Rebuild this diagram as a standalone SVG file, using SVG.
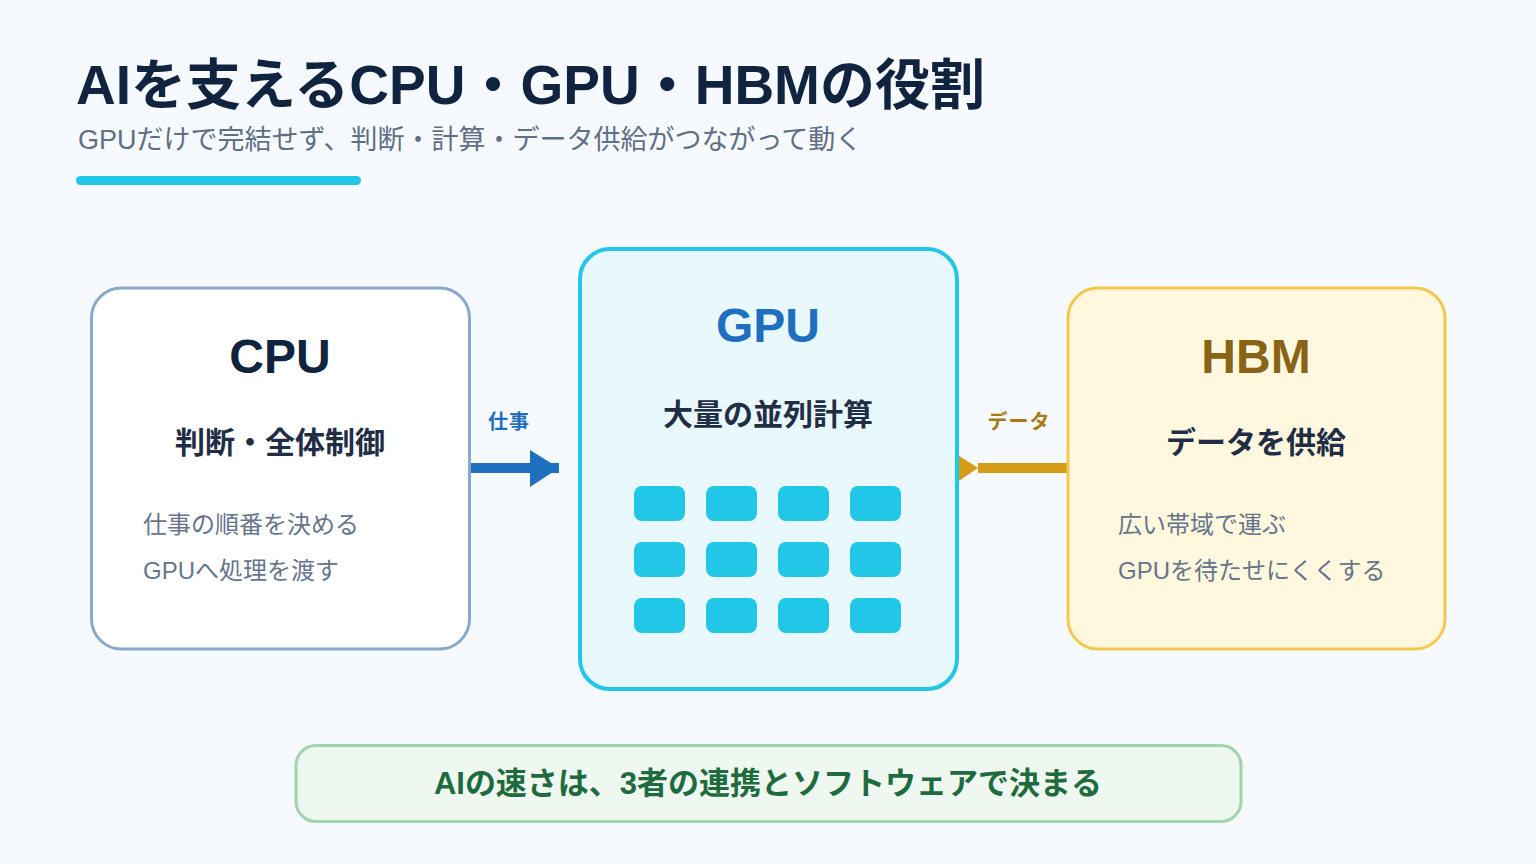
<svg xmlns="http://www.w3.org/2000/svg" width="1536" height="864" viewBox="0 0 1536 864">
<style>
text{font-family:"Liberation Sans","Noto Sans CJK JP",sans-serif}
.title{font-size:55px;font-weight:700;fill:#10233f}
.sub{font-size:27px;fill:#5f6f85}
.head{font-size:48px;font-weight:700;text-anchor:middle}
.role{font-size:30px;font-weight:700;fill:#1f2d45;text-anchor:middle}
.body{font-size:24px;fill:#66758a}
.lbl{font-size:20px;font-weight:700;text-anchor:middle;letter-spacing:1px}
.chip{fill:#22c7e8}
</style>
<rect width="1536" height="864" fill="#f6faff"/>
<text class="title" x="76" y="104">AIを支えるCPU・GPU・HBMの役割</text>
<text class="sub" x="78" y="149">GPUだけで完結せず、判断・計算・データ供給がつながって動く</text>
<rect x="76" y="176" width="285" height="9" rx="4.5" fill="#22c7e8"/>

<g id="connectors">
  <g id="edge-cpu-gpu">
    <rect x="470" y="463" width="89" height="10" fill="#1f6fbf"/>
    <polygon points="530,450 559,468 530,487" fill="#1f6fbf"/>
    <text class="lbl" x="509" y="429" fill="#1f6fbf">仕事</text>
  </g>
  <g id="edge-hbm-gpu">
    <rect x="978" y="463" width="90" height="10" fill="#d49c17"/>
    <polygon points="950,450 978,468 950,487" fill="#d49c17"/>
    <text class="lbl" x="1019" y="429" fill="#a87a12">データ</text>
  </g>
</g>

<g id="cpu">
  <rect x="91.5" y="288" width="378" height="361" rx="30" fill="#ffffff" stroke="#88a9cc" stroke-width="3"/>
  <text class="head" x="280" y="373" fill="#10233f">CPU</text>
  <text class="role" x="280" y="453">判断・全体制御</text>
  <text class="body" x="143" y="533">仕事の順番を決める</text>
  <text class="body" x="143" y="579">GPUへ処理を渡す</text>
</g>

<g id="gpu">
  <rect x="580" y="249" width="377" height="440" rx="30" fill="#e9f8fd" stroke="#22c7e8" stroke-width="4"/>
  <text class="head" x="768" y="342" fill="#1f6fbf">GPU</text>
  <text class="role" x="768" y="425">大量の並列計算</text>
  <g id="cores">
    <rect class="chip" x="634" y="486" width="51" height="35" rx="8"/>
    <rect class="chip" x="706" y="486" width="51" height="35" rx="8"/>
    <rect class="chip" x="778" y="486" width="51" height="35" rx="8"/>
    <rect class="chip" x="850" y="486" width="51" height="35" rx="8"/>
    <rect class="chip" x="634" y="542" width="51" height="35" rx="8"/>
    <rect class="chip" x="706" y="542" width="51" height="35" rx="8"/>
    <rect class="chip" x="778" y="542" width="51" height="35" rx="8"/>
    <rect class="chip" x="850" y="542" width="51" height="35" rx="8"/>
    <rect class="chip" x="634" y="598" width="51" height="35" rx="8"/>
    <rect class="chip" x="706" y="598" width="51" height="35" rx="8"/>
    <rect class="chip" x="778" y="598" width="51" height="35" rx="8"/>
    <rect class="chip" x="850" y="598" width="51" height="35" rx="8"/>
  </g>
</g>

<g id="hbm">
  <rect x="1068" y="288" width="377" height="361" rx="30" fill="#fff8df" stroke="#f5c84b" stroke-width="3"/>
  <text class="head" x="1256" y="373" fill="#8a6416">HBM</text>
  <text class="role" x="1256" y="453">データを供給</text>
  <text class="body" x="1118" y="533">広い帯域で運ぶ</text>
  <text class="body" x="1118" y="579">GPUを待たせにくくする</text>
</g>

<g id="summary">
  <rect x="296" y="745.5" width="945" height="76" rx="20" fill="#eef8f0" stroke="#9fd4ae" stroke-width="3"/>
  <text x="768" y="794" text-anchor="middle" font-size="31" font-weight="700" fill="#1e6b3e">AIの速さは、3者の連携とソフトウェアで決まる</text>
</g>
</svg>
